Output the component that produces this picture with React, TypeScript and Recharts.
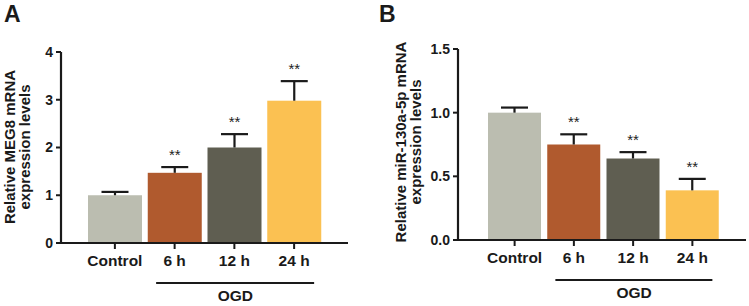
import React from 'react';
import { BarChart, Bar, XAxis, YAxis, Cell, LabelList, Label } from 'recharts';

const GROUPS = ['Control', '6 h', '12 h', '24 h'];
const COLORS = ['#bbbdb0', '#b05a2e', '#5f5e51', '#fbc152'];

// Panel A: MEG8
const MEG8_MEAN = [1.0, 1.47, 2.0, 2.98];
const MEG8_SD = [0.07, 0.12, 0.28, 0.41];
const MEG8_TICKS = [0, 1, 2, 3, 4];

// Panel B: miR-130a-5p
const MIR_MEAN = [1.0, 0.75, 0.64, 0.39];
const MIR_SD = [0.04, 0.08, 0.05, 0.09];
const MIR_TICKS = [0, 0.5, 1.0, 1.5];

const SIG = ['', '**', '**', '**'];

const FONT = 'Arial, "Liberation Sans", Helvetica, sans-serif';
const INK = '#1a1a1a';

const buildRows = (mean: number[], sd: number[]) =>
  GROUPS.map((g, i) => ({ group: g, value: mean[i], sd: sd[i], sig: SIG[i] }));

// bar with an upward-only error bar
const BarWithError = (props: any) => {
  const { x, y, width, height, index, payload } = props;
  const errPx = payload.value ? (payload.sd * height) / payload.value : 0;
  const cx = x + width / 2;
  const top = y - errPx;
  return (
    <g>
      <rect x={x} y={y} width={width} height={height} fill={COLORS[index % COLORS.length]} />
      <line x1={cx} x2={cx} y1={y} y2={top} stroke={INK} strokeWidth={2.2} />
      <line x1={cx - 13.5} x2={cx + 13.5} y1={top} y2={top} stroke={INK} strokeWidth={2.2} />
    </g>
  );
};

const SigLabel = (props: any) => {
  const { x, y, width, height, value, index, sdList, meanList } = props;
  if (!value) return null;
  const errPx = (sdList[index] * height) / meanList[index];
  return (
    <text
      x={x + width / 2}
      y={y - errPx - 7}
      textAnchor="middle"
      fontFamily={FONT}
      fontSize={15}
      fill="#222"
    >
      {value}
    </text>
  );
};

// category tick plus the OGD bracket underneath
const GroupTick = (props: any) => {
  const { x, y, payload, index } = props;
  return (
    <g>
      <text
        x={x}
        y={y}
        dy="0.71em"
        textAnchor="middle"
        fontFamily={FONT}
        fontWeight="bold"
        fontSize={15.5}
        fill={INK}
      >
        {payload.value}
      </text>
      {index >= 1 && (
        <line
          x1={index === 1 ? x - 18.5 : x - 30.5}
          x2={index === 3 ? x + 20 : x + 30.5}
          y1={y + 28}
          y2={y + 28}
          stroke={INK}
          strokeWidth={2}
        />
      )}
      {index === 2 && (
        <text
          x={x + 1}
          y={y + 40}
          dominantBaseline="central"
          textAnchor="middle"
          fontFamily={FONT}
          fontWeight="bold"
          fontSize={15.5}
          fill={INK}
        >
          OGD
        </text>
      )}
    </g>
  );
};

const YTitle = ({ lines, letter, x1, x2, cy }: any) => (props: any) => {
  const { viewBox } = props;
  const left = viewBox.x;
  return (
    <g>
      <text x={left + 4} y={22} fontFamily={FONT} fontWeight="bold" fontSize={23} fill={INK}>
        {letter}
      </text>
      {lines.map((t: string, i: number) => {
        const lx = left + (i === 0 ? x1 : x2);
        return (
          <text
            key={t}
            x={lx}
            y={cy}
            transform={`rotate(-90, ${lx}, ${cy})`}
            textAnchor="middle"
            dominantBaseline="central"
            fontFamily={FONT}
            fontWeight="bold"
            fontSize={15}
            fill={INK}
          >
            {t}
          </text>
        );
      })}
    </g>
  );
};

const Panel = ({
  width, mean, sd, ticks, domain, yWidth, top, xHeight, right, padL, padR, fmt, titleLines, letter, tx1, tx2, tcy,
}: any) => {
  const rows = buildRows(mean, sd);
  return (
    <BarChart
      width={width}
      height={306}
      data={rows}
      margin={{ top, right, bottom: 0, left: 0 }}
      barCategoryGap={3}
    >
      <XAxis
        dataKey="group"
        height={xHeight}
        padding={{ left: padL, right: padR }}
        axisLine={{ stroke: INK, strokeWidth: 2.2 }}
        tickLine={{ stroke: INK, strokeWidth: 2 }}
        tickSize={6}
        tickMargin={6}
        interval={0}
        tick={<GroupTick />}
      />
      <YAxis
        width={yWidth}
        domain={domain}
        ticks={ticks}
        tickFormatter={fmt}
        axisLine={{ stroke: INK, strokeWidth: 2.2 }}
        tickLine={{ stroke: INK, strokeWidth: 2 }}
        tickSize={5}
        tickMargin={3}
        tick={{ fontFamily: FONT, fontWeight: 'bold', fontSize: 14, fill: INK }}
        label={<Label content={YTitle({ lines: titleLines, letter, x1: tx1, x2: tx2, cy: tcy })} />}
      />
      <Bar dataKey="value" isAnimationActive={false} shape={<BarWithError />}>
        {rows.map((r, i) => (
          <Cell key={r.group} fill={COLORS[i % COLORS.length]} />
        ))}
        <LabelList dataKey="sig" content={<SigLabel sdList={sd} meanList={mean} />} />
      </Bar>
    </BarChart>
  );
};

export default function App() {
  return (
    <div
      style={{
        position: 'absolute',
        left: 0,
        top: 0,
        width: 749,
        height: 306,
        display: 'flex',
        background: '#fff',
      }}
    >
      <Panel
        width={375}
        mean={MEG8_MEAN}
        sd={MEG8_SD}
        ticks={MEG8_TICKS}
        domain={[0, 4]}
        yWidth={61}
        top={52}
        xHeight={63}
        right={27}
        padL={24}
        padR={24}
        fmt={(v: number) => String(v)}
        titleLines={['Relative MEG8 mRNA', 'expression levels']}
        letter="A"
        tx1={9}
        tx2={24}
        tcy={147}
      />
      <Panel
        width={374}
        mean={MIR_MEAN}
        sd={MIR_SD}
        ticks={MIR_TICKS}
        domain={[0, 1.5]}
        yWidth={83}
        top={49}
        xHeight={66}
        right={3}
        padL={27}
        padR={24}
        fmt={(v: number) => v.toFixed(1)}
        titleLines={['Relative miR-130a-5p mRNA', 'expression levels']}
        letter="B"
        tx1={25}
        tx2={40}
        tcy={142}
      />
    </div>
  );
}
